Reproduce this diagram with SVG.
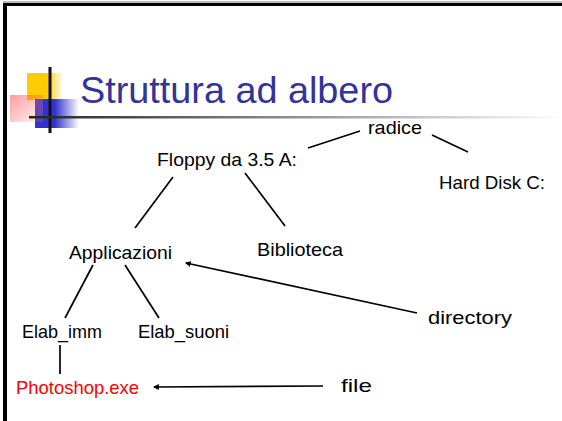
<svg xmlns="http://www.w3.org/2000/svg" width="562" height="421" viewBox="0 0 562 421">
<style>
.t{font-family:"Liberation Sans",Arial,sans-serif;font-size:18.5px;fill:#000}
.ln{stroke:#000;stroke-width:1.7;fill:none}
</style>
<defs>
<linearGradient id="gU" x1="0" x2="1" y1="0" y2="0"><stop offset="0" stop-color="#222"/><stop offset="1" stop-color="#fff"/></linearGradient>
<linearGradient id="gY" x1="0" x2="1"><stop offset="0.55" stop-color="#ffcc00"/><stop offset="1" stop-color="#ffcc00" stop-opacity="0"/></linearGradient>
<linearGradient id="gB" x1="0" x2="1"><stop offset="0.45" stop-color="#3333cc"/><stop offset="1" stop-color="#3333cc" stop-opacity="0"/></linearGradient>
<linearGradient id="gR" x1="0" x2="1" y1="0" y2="1"><stop offset="0" stop-color="#ff3333" stop-opacity="0.5"/><stop offset="0.5" stop-color="#ff6666" stop-opacity="0.35"/><stop offset="1" stop-color="#ff9999" stop-opacity="0.15"/></linearGradient>
<marker id="ah" viewBox="0 0 10 10" refX="8" refY="5" markerWidth="6" markerHeight="6" markerUnits="userSpaceOnUse" orient="auto"><path d="M0,0L10,5L0,10z" fill="#000"/></marker>
</defs>
<rect width="562" height="421" fill="#fff"/>
<rect x="3" y="1" width="559" height="2" fill="#bbb"/>
<rect x="3" y="3" width="559" height="3" fill="#000"/>
<rect x="3" y="3" width="4" height="418" fill="#000"/>
<g id="logo">
<rect x="27" y="73" width="36" height="27" fill="url(#gY)"/>
<rect x="35" y="99" width="44" height="29" fill="url(#gB)"/>
<rect x="10" y="95" width="33" height="27" fill="url(#gR)"/>
<rect x="48.5" y="67" width="3" height="66" fill="#111"/>
<rect x="29" y="116" width="533" height="2.5" fill="url(#gU)"/>
</g>
<text x="80" y="103" font-family="'Liberation Sans',Arial,sans-serif" font-size="36" fill="#333399" textLength="313" lengthAdjust="spacingAndGlyphs">Struttura ad albero</text>
<g id="connectors">
<line class="ln" x1="308" y1="148" x2="360" y2="131"/>
<line class="ln" x1="432" y1="135" x2="468" y2="152"/>
<line class="ln" x1="173" y1="177" x2="135" y2="228"/>
<line class="ln" x1="245" y1="173" x2="285" y2="226"/>
<line class="ln" x1="93" y1="265" x2="65" y2="318"/>
<line class="ln" x1="125" y1="265" x2="159" y2="318"/>
<line class="ln" x1="60" y1="345" x2="60" y2="374"/>
<line class="ln" x1="417" y1="313" x2="186" y2="263" marker-end="url(#ah)"/>
<line class="ln" x1="323" y1="386" x2="154" y2="387" marker-end="url(#ah)"/>
</g>
<g id="radice"><text class="t" x="368" y="134" textLength="54" lengthAdjust="spacingAndGlyphs">radice</text></g>
<g id="floppy"><text class="t" x="157" y="166" textLength="140" lengthAdjust="spacingAndGlyphs">Floppy da 3.5 A:</text></g>
<g id="harddisk"><text class="t" x="439" y="189" textLength="106" lengthAdjust="spacingAndGlyphs">Hard Disk C:</text></g>
<g id="applicazioni"><text class="t" x="69" y="259" textLength="103" lengthAdjust="spacingAndGlyphs">Applicazioni</text></g>
<g id="biblioteca"><text class="t" x="257" y="256" textLength="86" lengthAdjust="spacingAndGlyphs">Biblioteca</text></g>
<g id="elab_imm"><text class="t" x="22" y="338" textLength="80" lengthAdjust="spacingAndGlyphs">Elab_imm</text></g>
<g id="elab_suoni"><text class="t" x="138" y="338" textLength="91" lengthAdjust="spacingAndGlyphs">Elab_suoni</text></g>
<g id="directory"><text class="t" x="428" y="324" textLength="84" lengthAdjust="spacingAndGlyphs">directory</text></g>
<g id="photoshop"><text class="t" x="16" y="394" textLength="123" lengthAdjust="spacingAndGlyphs" style="fill:#ff0000">Photoshop.exe</text></g>
<g id="file"><text class="t" x="341" y="392" textLength="31" lengthAdjust="spacingAndGlyphs">file</text></g>
</svg>
